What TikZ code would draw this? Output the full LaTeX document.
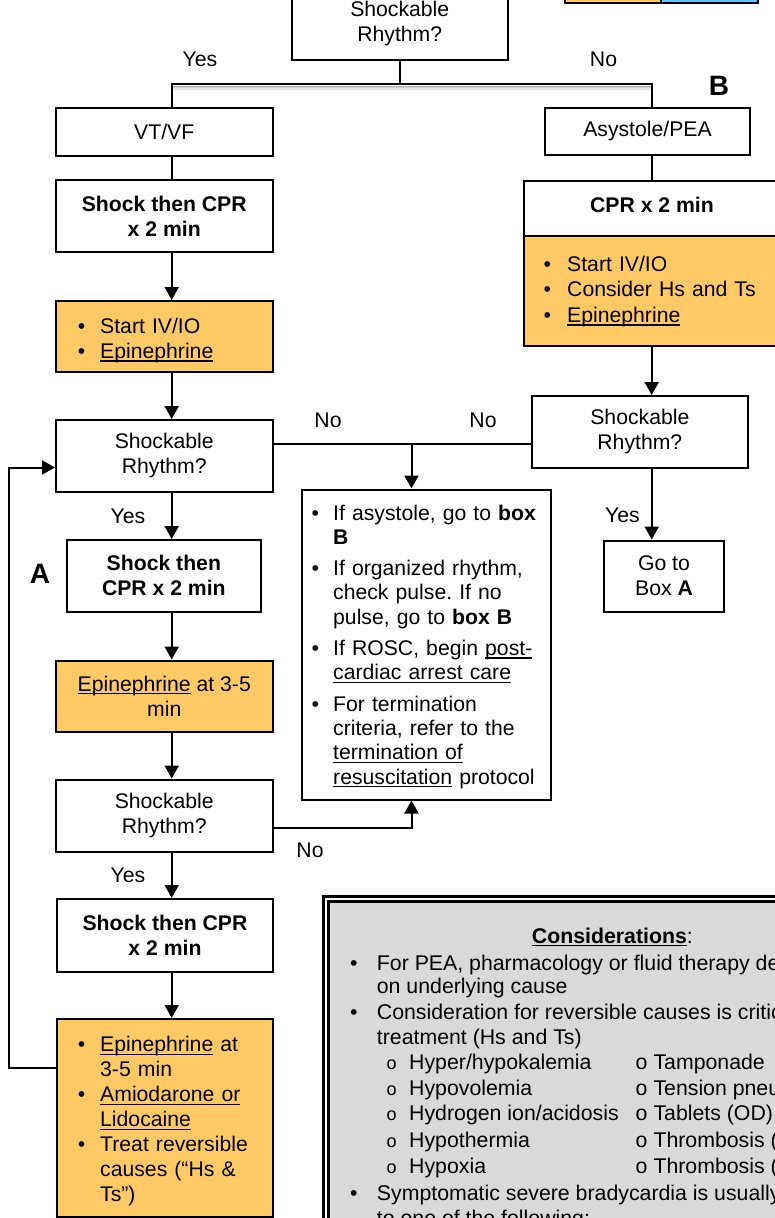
\documentclass[tikz,border=0pt]{standalone}
\usepackage{fontspec}
\setmainfont{Liberation Sans}
\usetikzlibrary{arrows.meta,calc}
\frenchspacing

\definecolor{drugfill}{HTML}{FFC966}
\definecolor{legblue}{HTML}{66C2FF}
\definecolor{panelgray}{HTML}{D9D9D9}

\newcommand{\flowfont}{\fontsize{21.2}{25}\selectfont}
\newcommand{\infofont}{\fontsize{21.2}{24.3}\selectfont}
\newcommand{\consfont}{\fontsize{21.3}{25}\selectfont}
\newlength{\bulind}
% underline that sits just below the baseline and crosses descenders
\newcommand{\undr}[1]{\setbox0\hbox{#1}\rlap{\rule[-3.2pt]{\wd0}{1.4pt}}\box0\relax}
% bulleted item with hanging indent; lines inside are broken with \newline
\newcommand{\bitem}[1]{\leavevmode\hangindent=\bulind\hangafter=1\makebox[\bulind][l]{\textbullet}#1\par}

\tikzset{
  box/.style={draw, line width=2pt, inner sep=2pt, align=center, font=\flowfont},
  boldbox/.style={box, font=\flowfont\bfseries},
  drug/.style={box, fill=drugfill},
  listtext/.style={anchor=base west, inner sep=0pt, text width=260pt, align=left, font=\flowfont},
  link/.style={line width=2pt},
  arr/.style={line width=2pt, -{Triangle[length=13pt,width=14pt]}},
  lbl/.style={anchor=base, inner sep=0pt, font=\flowfont},
  bigletter/.style={anchor=base, inner sep=0pt, font=\fontsize{28}{28}\selectfont\bfseries},
  constext/.style={anchor=base west, inner sep=0pt, font=\consfont},
  subo/.style={anchor=base west, inner sep=0pt, font=\fontsize{18}{18}\selectfont},
  legend/.style={draw, line width=2.2pt, minimum height=40pt, inner sep=0pt},
}

\begin{document}
\begin{tikzpicture}[x=1pt,y=-1pt]
\useasboundingbox (0,0) rectangle (775,1218);
\begin{scope}
\clip (0,0) rectangle (775,1218);

% ---------- legend strip ----------
\node[legend, fill=drugfill, minimum width=96pt] (legdrug) at (613,-17.3) {};
\node[legend, fill=legblue, minimum width=97pt] (legother) at (709.5,-17.3) {};

% ---------- first decision ----------
\node[box, minimum width=216.5pt, minimum height=71.5pt] (top) at (399.75,23.75) {Shockable\\Rhythm?};

% ---------- shockable branch ----------
\node[box, minimum width=216.5pt, minimum height=47.5pt] (vtvf) at (164.25,131.75) {VT/VF};
\node[boldbox, minimum width=216.5pt, minimum height=72pt] (shock1) at (164.25,216) {Shock then CPR\\x 2 min};
\node[drug, minimum width=216.5pt, minimum height=71pt] (ivA) at (164.25,336.5) {};
\node[listtext] (ivAtext) at (77.6,333) {\setlength{\bulind}{22.4pt}\fontsize{21.2}{25.5}\selectfont%
  \bitem{Start IV/IO}\bitem{\undr{Epinephrine}}};
\node[box, minimum width=216.5pt, minimum height=72pt] (rhyA) at (164.25,456) {Shockable\\Rhythm?};
\node[boldbox, minimum width=194.3pt, minimum height=71.7pt] (shockA) at (163.85,575.85) {Shock then\\CPR x 2 min};
\node[drug, minimum width=216.5pt, minimum height=71pt] (epiA) at (164.25,696) {\undr{Epinephrine} at 3-5\\min};
\node[box, minimum width=216.5pt, minimum height=72pt] (rhyA2) at (164.25,815.5) {Shockable\\Rhythm?};
\node[boldbox, minimum width=216pt, minimum height=72.5pt] (shockA2) at (165,935.25) {Shock then CPR\\x 2 min};
\node[drug, minimum width=216pt, minimum height=197.5pt] (listA) at (165,1117.75) {};
\node[listtext] (listAtext) at (77.6,1051.7) {\setlength{\bulind}{22.4pt}%
  \bitem{\undr{Epinephrine} at\newline 3-5 min}%
  \bitem{\undr{Amiodarone or}\newline \undr{Lidocaine}}%
  \bitem{Treat reversible\newline causes (“Hs \&\newline Ts”)}};

% ---------- non-shockable branch ----------
\node[box, minimum width=205pt, minimum height=46.5pt] (asys) at (647.5,131.25) {Asystole/PEA};
\node[boldbox, minimum width=256pt, minimum height=54.5pt, text depth=6pt] (cprB) at (652,208.25) {CPR x 2 min};
\node[drug, minimum width=256pt, minimum height=110.5pt] (ivB) at (652,290.75) {};
\node[listtext] (ivBtext) at (543.5,271) {\setlength{\bulind}{23.5pt}\fontsize{21.2}{25.8}\selectfont%
  \bitem{Start IV/IO}\bitem{Consider Hs and Ts}\bitem{\undr{Epinephrine}}};
\node[box, minimum width=216.3pt, minimum height=71.7pt] (rhyB) at (639.85,431.85) {Shockable\\Rhythm?};
\node[box, minimum width=120pt, minimum height=71pt] (gotoA) at (664,576) {Go to\\Box \textbf{A}};

% ---------- outcome box ----------
\node[box, minimum width=249pt, minimum height=310pt] (info) at (426.5,644.5) {};
\node[listtext, font=\infofont] (infoText) at (311.5,520) {\setlength{\bulind}{21.5pt}\setlength{\parskip}{7pt}%
  \bitem{If asystole, go to \textbf{box}\newline\textbf{B}}%
  \bitem{If organized rhythm,\newline check pulse. If no\newline pulse, go to \textbf{box B}}%
  \bitem{If ROSC, begin \undr{post-}\newline\undr{cardiac arrest care}}%
  \bitem{For termination\newline criteria, refer to the\newline\undr{termination of}\newline\undr{resuscitation} protocol}};

% ---------- connectors ----------
\coordinate (busL) at (171.7,84);
\coordinate (busR) at (651.7,84);
\foreach \d/\s in {2.2/30,3.6/18,5/9}
  \draw[line width=1.4pt, black!\s] ($(busL)+(0.8,\d)$) -- ($(busR)+(-0.8,\d)$);
\draw[link] (top.south) -- (top.south |- busL);
\draw[link] (busL |- vtvf.north) -- (busL) -- (busR) -- (busR |- asys.north);

\draw[link] (busL |- vtvf.south) -- (busL |- shock1.north);
\draw[arr] (busL |- shock1.south) -- (busL |- ivA.north);
\draw[arr] (busL |- ivA.south) -- (busL |- rhyA.north);
\draw[arr] (busL |- rhyA.south) -- (busL |- shockA.north);
\draw[arr] (busL |- shockA.south) -- (busL |- epiA.north);
\draw[arr] (busL |- epiA.south) -- (busL |- rhyA2.north);
\draw[arr] (busL |- rhyA2.south) -- (busL |- shockA2.north);
\draw[arr] (busL |- shockA2.south) -- (busL |- listA.north);

\coordinate (fbBot) at (8.5,1067.5);
\coordinate (fbTop) at (8.5,467.5);
\draw[arr] (listA.west |- fbBot) -- (fbBot) -- (fbTop) -- (rhyA.west |- fbTop);

\coordinate (midY) at (0,443.5);
\coordinate (jn) at (411.5,443.5);
\draw[link] (rhyA.east |- midY) -- (rhyB.west |- midY);
\draw[arr] (jn) -- (jn |- info.north);
\coordinate (lowY) at (0,828);
\draw[arr] (rhyA2.east |- lowY) -| (info.south -| jn);

\draw[link] (busR |- asys.south) -- (busR |- cprB.north);
\draw[arr] (busR |- ivB.south) -- (busR |- rhyB.north);
\draw[arr] (busR |- rhyB.south) -- (busR |- gotoA.north);

% ---------- labels ----------
\node[lbl] (yesTop) at (200,66.7) {Yes};
\node[lbl] (noTop) at (603.5,66.7) {No};
\node[bigletter] (markB) at (719,95) {B};
\node[bigletter] (markA) at (40,583) {A};
\node[lbl] (noLeft) at (328,427) {No};
\node[lbl] (noRight) at (483,427) {No};
\node[lbl] (yesA) at (128,523) {Yes};
\node[lbl] (yesB) at (622.5,522.7) {Yes};
\node[lbl] (noLow) at (310,857) {No};
\node[lbl] (yesA2) at (128,882) {Yes};

% ---------- considerations panel ----------
\node[draw, line width=3pt, minimum width=700pt, minimum height=500pt, inner sep=0pt] (consOuter) at (673.5,1146.5) {};
\node[draw, line width=2.5pt, fill=panelgray, minimum width=690pt, minimum height=490pt, inner sep=0pt] (consInner) at (673.3,1146.3) {};
\node[anchor=base, inner sep=0pt, font=\consfont] (consTitle) at (612.4,943) {\textbf{\undr{Considerations}}:};
\foreach \y in {970,1019,1200}
  \node[constext] at (350,\y) {\textbullet};
\node[constext] (c1) at (376.7,970) {For PEA, pharmacology or fluid therapy depends};
\node[constext] (c2) at (376.7,993.5) {on underlying cause};
\node[constext] (c3) at (376.7,1019) {Consideration for reversible causes is critical to};
\node[constext] (c4) at (376.7,1044) {treatment (Hs and Ts)};
\foreach \y/\left/\right in {1069/Hyper\slash hypokalemia/Tamponade,
                              1095/Hypovolemia/Tension pneumothorax,
                              1120/Hydrogen ion\slash acidosis/Tablets (OD),
                              1147/Hypothermia/Thrombosis (coronary),
                              1173/Hypoxia/Thrombosis (pulmonary)}{
  \node[subo] at (386.5,\y) {o};
  \node[constext] at (409,\y) {\left};
  \node[constext] at (635.5,\y) {o};
  \node[constext] at (653.3,\y) {\right};
}
\node[constext] (c5) at (376.7,1200) {Symptomatic severe bradycardia is usually due};
\node[constext] (c6) at (376.7,1225) {to one of the following:};
\end{scope}
\end{tikzpicture}
\end{document}
